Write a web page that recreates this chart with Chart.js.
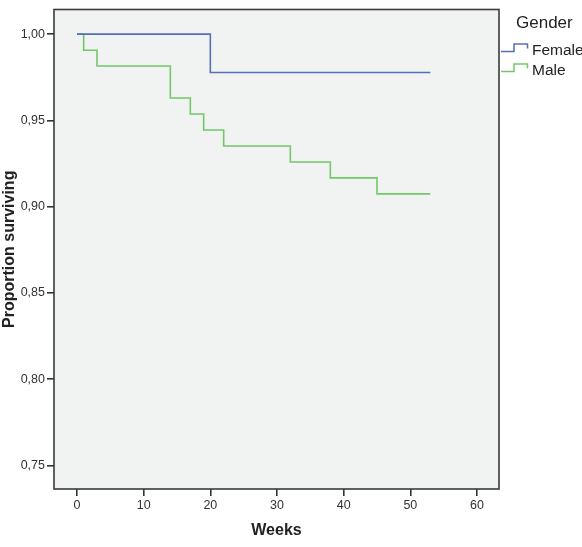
<!DOCTYPE html>
<html>
<head>
<meta charset="utf-8">
<script src="https://cdn.jsdelivr.net/npm/chart.js@4"></script>
<style>
html,body{margin:0;padding:0;background:#fff;}
#wrap{position:relative;width:582px;height:547px;}
</style>
</head>
<body>
<div id="wrap"><canvas id="c" width="582" height="547"></canvas></div>
<script>
// ---- data ----
const weeksFemale = [0, 20, 53];
const survFemale  = [1.000, 0.9778, 0.9778];
const weeksMale   = [0, 1, 3, 14, 17, 19, 22, 32, 38, 45, 53];
const survMale    = [1.000, 0.9907, 0.9815, 0.9630, 0.9537, 0.9444, 0.9352, 0.9259, 0.9167, 0.9074, 0.9074];
const xTicks = [0, 10, 20, 30, 40, 50, 60];
const yTicks = [0.75, 0.80, 0.85, 0.90, 0.95, 1.00];
const seriesNames = ['Female', 'Male'];
const legendTitle = 'Gender';
const xTitle = 'Weeks';
const yTitle = 'Proportion surviving';

const colFemale = '#5570b9';
const colMale = '#72c868';
const FONT = "'Liberation Sans', Arial, sans-serif";

const toPts = (xs, ys) => xs.map((x, i) => ({x: x, y: ys[i]}));

const bgPlugin = {
  id: 'bgPlugin',
  beforeDatasetsDraw(chart) {
    const {ctx, chartArea: a} = chart;
    ctx.save();
    ctx.fillStyle = '#f1f3f2';
    ctx.fillRect(a.left, a.top, a.right - a.left, a.bottom - a.top);
    ctx.restore();
  },
  afterDraw(chart) {
    const {ctx, chartArea: a} = chart;
    ctx.save();
    ctx.strokeStyle = '#3a3a3a';
    ctx.lineWidth = 1.6;
    ctx.strokeRect(a.left, a.top, a.right - a.left, a.bottom - a.top);
    // legend
    ctx.fillStyle = '#222';
    ctx.textBaseline = 'alphabetic';
    ctx.font = '17px ' + FONT;
    ctx.fillText(legendTitle, a.right + 17, 28);
    const cols = [colFemale, colMale];
    const rowsY = [51.5, 71.5];
    ctx.font = '15.5px ' + FONT;
    seriesNames.forEach((name, i) => {
      const y = rowsY[i];
      ctx.strokeStyle = cols[i];
      ctx.lineWidth = 1.5;
      ctx.beginPath();
      ctx.moveTo(a.right + 2, y);
      ctx.lineTo(a.right + 15, y);
      ctx.lineTo(a.right + 15, y - 7.5);
      ctx.lineTo(a.right + 28.5, y - 7.5);
      ctx.lineTo(a.right + 28.5, y - 3);
      ctx.stroke();
      ctx.fillStyle = '#222';
      ctx.textBaseline = 'middle';
      ctx.fillText(name, a.right + 33, y - 1);
    });
    ctx.restore();
  }
};

new Chart(document.getElementById('c'), {
  type: 'line',
  data: {
    datasets: [
      {label: seriesNames[0], data: toPts(weeksFemale, survFemale), borderColor: colFemale,
       borderWidth: 1.6, stepped: 'before', pointRadius: 0, fill: false},
      {label: seriesNames[1], data: toPts(weeksMale, survMale), borderColor: colMale,
       borderWidth: 1.6, stepped: 'before', pointRadius: 0, fill: false}
    ]
  },
  options: {
    responsive: false,
    animation: false,
    layout: {padding: {left: 0, top: 4, right: 83, bottom: 0}},
    plugins: {legend: {display: false}, tooltip: {enabled: false}},
    scales: {
      x: {
        type: 'linear',
        min: -3.45, max: 63.3,
        afterBuildTicks(s) { s.ticks = xTicks.map(v => ({value: v})); },
        afterFit(s) { s.height = 58; },
        border: {display: false},
        grid: {drawOnChartArea: false, drawTicks: true, tickLength: 7, color: '#333', lineWidth: 1.6},
        ticks: {color: '#333', padding: 2, font: {family: FONT, size: 12.5}, maxRotation: 0,
                callback: v => String(v)},
        title: {display: true, text: xTitle, color: '#222', font: {family: FONT, size: 16, weight: 'bold'},
                padding: {top: 0, bottom: 6.4}}
      },
      y: {
        type: 'linear',
        min: 0.7363, max: 1.0143,
        afterBuildTicks(s) { s.ticks = yTicks.map(v => ({value: v})); },
        afterFit(s) { s.width = 54; },
        border: {display: false},
        grid: {drawOnChartArea: false, drawTicks: true, tickLength: 7, color: '#333', lineWidth: 1.6},
        ticks: {color: '#333', padding: 2, font: {family: FONT, size: 12.5},
                callback: v => Number(v).toFixed(2).replace('.', ',')},
        title: {display: true, text: yTitle, color: '#222', font: {family: FONT, size: 16, weight: 'bold'},
                padding: {top: 0, bottom: 0}}
      }
    }
  },
  plugins: [bgPlugin]
});
</script>
</body>
</html>
